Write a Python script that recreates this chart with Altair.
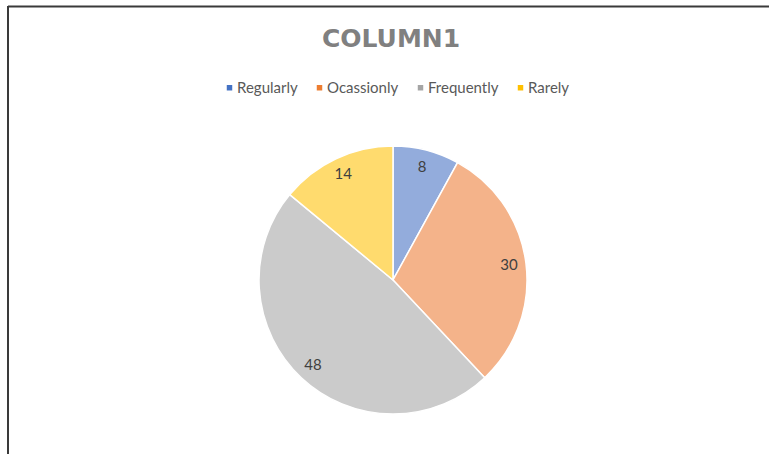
import altair as alt
import pandas as pd

title_text = "COLUMN1"
categories = ["Regularly", "Ocassionly", "Frequently", "Rarely"]
values = [8, 30, 48, 14]
solid_colors = ["#4472C4", "#ED7D31", "#A5A5A5", "#FFC000"]
hatch_colors = ["#93ACDC", "#F4B38A", "#CBCBCB", "#FFDB6E"]

df = pd.DataFrame({"category": categories, "value": values, "order": list(range(len(categories)))})

CX, CY, R = 393, 280, 134

base = alt.Chart(df).encode(
    theta=alt.Theta("value:Q", stack=True),
    order=alt.Order("order:Q"),
)

arcs = base.mark_arc(outerRadius=R, stroke="white", strokeWidth=1.5).encode(
    x=alt.value(CX), y=alt.value(CY),
    color=alt.Color("category:N", scale=alt.Scale(domain=categories, range=hatch_colors), legend=None),
)

labels = base.mark_text(radius=117, font="Lato", fontSize=15, color="#404040", align="center", baseline="middle").encode(
    x=alt.value(CX), y=alt.value(CY),
    text=alt.Text("value:Q"),
)

legend_layer = alt.Chart(df).mark_square(opacity=0, size=1).encode(
    x=alt.value(0), y=alt.value(0),
    fill=alt.Fill("category:N", scale=alt.Scale(domain=categories, range=solid_colors),
                  legend=alt.Legend(orient="none", legendX=222, legendY=80, direction="horizontal",
                                    title=None, symbolType="square", symbolSize=30, symbolOpacity=1,
                                    symbolStrokeWidth=0, labelFont="Lato", labelFontSize=15,
                                    labelColor="#595959", labelOffset=0, columnPadding=14, padding=0)),
)

title = alt.Chart(alt.Data(values=[{"t": title_text}])).mark_text(
    font="DejaVu Sans", fontSize=25, fontWeight="bold", color="#808080", align="center", baseline="alphabetic"
).encode(x=alt.value(391), y=alt.value(47), text="t:N")

border_top = alt.Chart(alt.Data(values=[{}])).mark_rule(color="#3A3A3A", strokeWidth=2).encode(
    x=alt.value(8), x2=alt.value(769), y=alt.value(6.5))
border_left = alt.Chart(alt.Data(values=[{}])).mark_rule(color="#3A3A3A", strokeWidth=2).encode(
    x=alt.value(8), y=alt.value(6), y2=alt.value(454))

chart = alt.layer(arcs, labels, legend_layer, title, border_top, border_left).resolve_scale(
    color="independent", fill="independent"
).properties(width=769, height=454, autosize="none", padding=0, background="white").configure_view(strokeWidth=0)

chart.save("out.html", embed_options={"renderer": "svg", "actions": False})
